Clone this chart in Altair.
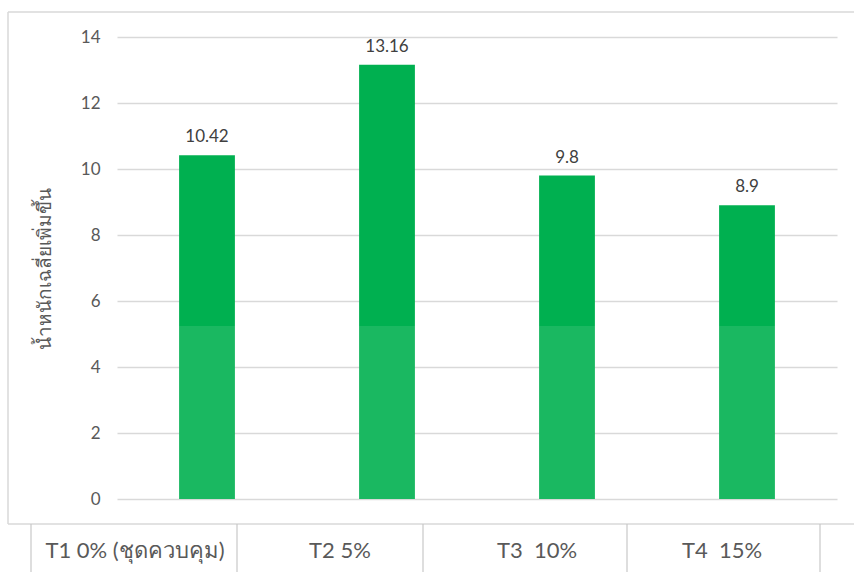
import altair as alt
import pandas as pd

categories = ["T1 0% (ชุดควบคุม)", "T2 5%", "T3  10%", "T4  15%"]
values = [10.42, 13.16, 9.8, 8.9]
y_ticks = [0, 2, 4, 6, 8, 10, 12, 14]
y_title = "น้ำหนักเฉลี่ยเพิ่มขึ้น"

df = pd.DataFrame({"cat": categories, "val": values})

FONT = "Lato, 'Noto Sans', 'DejaVu Sans', sans-serif"
GREY = "#595959"
W, H = 720, 462

x = alt.X("cat:N", sort=categories, axis=None,
          scale=alt.Scale(paddingInner=0.69, paddingOuter=0.345))
y = alt.Y("val:Q", scale=alt.Scale(domain=[0, 14], nice=False),
          axis=alt.Axis(values=y_ticks, title=y_title, grid=True, gridColor="#d9d9d9",
                        gridWidth=1.5, domain=False, ticks=False, labelPadding=17,
                        labelFontSize=17, labelColor=GREY, labelFont=FONT,
                        titleFontSize=19, titleColor=GREY, titleFont=FONT,
                        titleFontWeight="normal", titleX=-63, titleY=231))

bars = alt.Chart(df).mark_bar(color="#00B050").encode(x=x, y=y)
labels = alt.Chart(df).mark_text(dy=-18, fontSize=17, color="#404040", font=FONT).encode(
    x=x, y="val:Q", text="val:Q")

# faint watermark veil over the lower part of each bar
veil = alt.Chart(df).mark_bar(color="white", opacity=0.1).encode(
    x=x, y=alt.value(289), y2=alt.value(H))

one = pd.DataFrame({"a": [0]})
FR = "#d9d9d9"
# outer chart frame (top, left, bottom edges)
frame_top = alt.Chart(one).mark_rule(color=FR, strokeWidth=1.5).encode(
    x=alt.value(-109), x2=alt.value(737), y=alt.value(-25))
frame_left = alt.Chart(one).mark_rule(color=FR, strokeWidth=1.5).encode(
    x=alt.value(-109), y=alt.value(-25), y2=alt.value(487))
frame_bottom = alt.Chart(one).mark_rule(color=FR, strokeWidth=1.5).encode(
    x=alt.value(-109), x2=alt.value(737), y=alt.value(487))

# table below the chart: separators and labels
sep_x = [-86, 120, 306, 510, 703]
seps = [alt.Chart(one).mark_rule(color="#c8c8c8", strokeWidth=1.2).encode(
    x=alt.value(sx), y=alt.value(487), y2=alt.value(540)) for sx in sep_x]
lab_x = [18, 223, 420, 605]
tlabels = [alt.Chart(one).mark_text(
    fontSize=22, color=GREY, font=FONT, baseline="alphabetic").encode(
    x=alt.value(lx), y=alt.value(521), text=alt.value(c.replace("  ", "\u00a0\u00a0")))
    for lx, c in zip(lab_x, categories)]

chart = alt.layer(bars, veil, labels, frame_top, frame_left, frame_bottom,
                  *seps, *tlabels).properties(
    width=W, height=H,
    padding={"left": 117, "top": 37, "right": 17, "bottom": 73},
    autosize=alt.AutoSizeParams(type="none"),
    background="white",
).configure_view(stroke=None)

chart.save("out.html", embed_options={"renderer": "svg", "actions": False})
